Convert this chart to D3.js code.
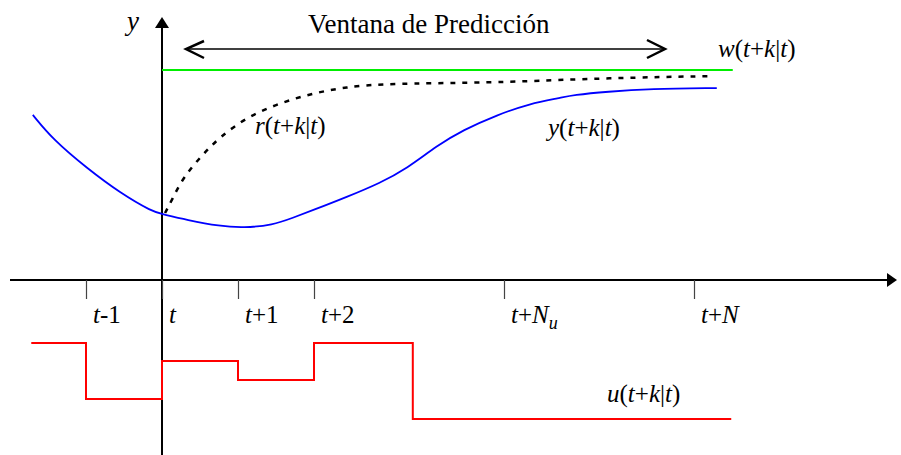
<!DOCTYPE html>
<html>
<head>
<meta charset="utf-8">
<script src="https://cdn.jsdelivr.net/npm/d3@7"></script>
<style>
  html, body { margin: 0; padding: 0; background: #fff; }
  svg { display: block; }
</style>
</head>
<body>
<svg id="chart" width="901" height="455"></svg>
<script>
// Sampling instants (in steps from t) and their labels
const tickSteps  = [-1, 0, 1, 2, 4.5, 7];
const tickLabels = ["t-1", "t", "t+1", "t+2", "t+N_u", "t+N"];

// Predicted output y(t+k|t): [step, normalised value]
const outputSeries = [
  [-1.70, 0.786], [-1.43, 0.667], [-0.99, 0.533], [-0.55, 0.414], [-0.12, 0.324],
  [0.00, 0.314], [0.33, 0.286], [0.76, 0.256], [1.07, 0.248], [1.46, 0.262],
  [1.72, 0.296], [1.99, 0.333], [2.43, 0.395], [2.87, 0.462], [3.22, 0.530],
  [3.62, 0.640], [3.96, 0.714], [4.41, 0.786], [4.84, 0.840], [5.24, 0.867],
  [5.41, 0.881], [5.86, 0.897], [6.42, 0.910], [7.30, 0.914]
];

// Reference trajectory r(t+k|t)
const referenceSeries = [
  [0.04, 0.319], [0.13, 0.381], [0.28, 0.490], [0.53, 0.595], [0.76, 0.681],
  [1.12, 0.776], [1.55, 0.843], [1.99, 0.890], [2.43, 0.919], [2.87, 0.933],
  [3.75, 0.938], [4.62, 0.943], [5.86, 0.962], [7.25, 0.971]
];

// Set point w(t+k|t)
const setpointSeries = [[0, 1], [7.51, 1]];

// Control signal u(t+k|t): [switch step, level]
const controlSeries = [
  [-1.72, 0.87], [-1, 0.31], [0, 0.69], [1, 0.50], [2, 0.87], [3.30, 0.11], [7.49, 0.11]
];

const svg = d3.select("#chart");

const x = d3.scaleLinear().domain([0, 7]).range([162, 694]);
const y = d3.scaleLinear().domain([0, 1]).range([280, 70]);
const yu = d3.scaleLinear().domain([0, 1]).range([430, 330]);

function addText(px, py, size) {
  return svg.append("text").attr("x", px).attr("y", py)
    .style("font-family", "Liberation Serif").style("font-size", size + "px")
    .attr("fill", "#000");
}

// Write a label with letters in italics and "_x" as a subscript
function mathText(sel, str, size) {
  let i = 0;
  while (i < str.length) {
    const ch = str[i];
    if (ch === "_") {
      sel.append("tspan").text(str[i + 1])
        .style("font-style", "italic")
        .attr("dy", 6).style("font-size", (size * 0.72) + "px");
      i += 2;
      continue;
    }
    sel.append("tspan").text(ch)
      .style("font-style", /[a-zA-Z]/.test(ch) ? "italic" : "normal");
    i++;
  }
  return sel;
}

// Axes with arrows
svg.append("line").attr("x1", x(-2)).attr("x2", 888).attr("y1", y(0)).attr("y2", y(0))
  .attr("stroke", "#000").attr("stroke-width", 2);
svg.append("path").attr("d", "M887,273 L897,280 L887,287 Z").attr("fill", "#000");

svg.append("line").attr("x1", x(0)).attr("x2", x(0)).attr("y1", 455).attr("y2", 27)
  .attr("stroke", "#000").attr("stroke-width", 2);
svg.append("path").attr("d", `M${x(0) - 7},28 L${x(0)},17 L${x(0) + 7},28 Z`).attr("fill", "#000");

// Tick marks below the time axis
const axis = d3.axisBottom(x).tickValues(tickSteps).tickSizeInner(19).tickSizeOuter(0).tickFormat("");
const gAxis = svg.append("g").attr("transform", `translate(0,${y(0)})`).call(axis);
gAxis.select(".domain").remove();
gAxis.selectAll(".tick line").attr("stroke", "#444").attr("stroke-width", 1.2);

tickSteps.forEach((k, i) => {
  mathText(addText(x(k) + 7, 323, 25), tickLabels[i], 25);
});

// Set point
svg.append("path").datum(setpointSeries)
  .attr("d", d3.line().x(d => x(d[0])).y(d => y(d[1])))
  .attr("fill", "none").attr("stroke", "#00ee00").attr("stroke-width", 2);

// Reference trajectory
svg.append("path").datum(referenceSeries)
  .attr("d", d3.line().x(d => x(d[0])).y(d => y(d[1])).curve(d3.curveBasis))
  .attr("fill", "none").attr("stroke", "#000").attr("stroke-width", 2.5)
  .attr("stroke-dasharray", "5,7");

// Predicted output
svg.append("path").datum(outputSeries)
  .attr("d", d3.line().x(d => x(d[0])).y(d => y(d[1])).curve(d3.curveBasis))
  .attr("fill", "none").attr("stroke", "#0000ff").attr("stroke-width", 1.8);

// Control signal
svg.append("path").datum(controlSeries)
  .attr("d", d3.line().x(d => x(d[0])).y(d => yu(d[1])).curve(d3.curveStepAfter))
  .attr("fill", "none").attr("stroke", "#ff0000").attr("stroke-width", 2);

// Prediction window arrow
svg.append("line").attr("x1", 186).attr("x2", 665).attr("y1", 49).attr("y2", 49)
  .attr("stroke", "#000").attr("stroke-width", 1.3);
svg.append("path").attr("d", "M204,41 L186,49 L204,58")
  .attr("fill", "none").attr("stroke", "#000").attr("stroke-width", 2.5);
svg.append("path").attr("d", "M647,40 L665,49 L647,58")
  .attr("fill", "none").attr("stroke", "#000").attr("stroke-width", 2.5);

addText(308, 33, 27).text("Ventana de Predicción");

// Series labels
mathText(addText(127, 30, 27), "y", 27);
mathText(addText(718, 57, 25), "w(t+k|t)", 25);
mathText(addText(255, 134, 25), "r(t+k|t)", 25);
mathText(addText(548, 136, 25), "y(t+k|t)", 25);
mathText(addText(607, 402, 25), "u(t+k|t)", 25);
</script>
</body>
</html>
